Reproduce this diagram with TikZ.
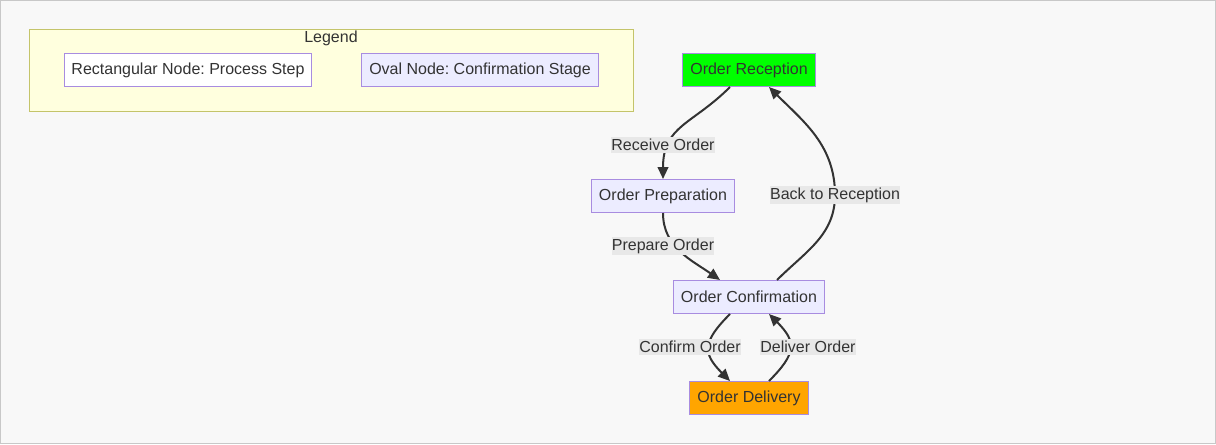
\documentclass[tikz,border=0pt]{standalone}
\usepackage{fontspec}
\setmainfont{Liberation Sans}
\frenchspacing
\usetikzlibrary{arrows.meta}
\definecolor{bggray}{HTML}{F8F8F8}
\definecolor{framegray}{HTML}{C8C8C8}
\definecolor{nodefill}{HTML}{ECECFF}
\definecolor{nodeline}{HTML}{A88CE0}
\definecolor{legfill}{HTML}{FFFFDE}
\definecolor{legline}{HTML}{C4C46A}
\definecolor{txtgray}{HTML}{333333}
\definecolor{lblfill}{HTML}{E8E8E8}
\definecolor{recfill}{HTML}{00FF00}
\definecolor{delfill}{HTML}{FFA500}
\tikzset{%
  pnode/.style={%
    draw=nodeline,
    fill=nodefill,
    text=txtgray,
    rectangle,
    line width=0.75pt,
    minimum height=24.75pt,
    inner xsep=5.6pt,
    font=\fontsize{12pt}{14.4pt}\selectfont%
  },
  wnode/.style={%
    pnode,
    fill=white
  },
  legbox/.style={%
    draw=legline,
    fill=legfill,
    line width=0.75pt,
    rectangle
  },
  ltitle/.style={%
    text=txtgray,
    inner sep=0pt,
    font=\fontsize{12pt}{14.4pt}\selectfont%
  },
  elabel/.style={%
    fill=lblfill,
    text=txtgray,
    inner xsep=0pt,
    inner ysep=1.5pt,
    font=\fontsize{12pt}{14.4pt}\selectfont%
  },
  flow/.style={%
    draw=txtgray,
    line width=1.5pt,
    -{Triangle[length=9pt,width=8pt]}%
  }
}
\begin{document}
\begin{tikzpicture}[x=0.75pt,y=-0.75pt]
  \useasboundingbox (0,0) rectangle (1216,444);
  \draw[framegray, fill=bggray, line width=0.75pt] (0.5,0.5) rectangle (1215.5,443.5);

  % legend
  \node[legbox, minimum width=453pt, minimum height=61.5pt] (legend) at (331,70) {};
  \node[ltitle] (legtitle) at (331,38) {Legend};
  \node[wnode] (lrect) at (188,70) {Rectangular Node: Process Step};
  \node[pnode] (loval) at (480,70) {Oval Node: Confirmation Stage};

  % flow
  \node[pnode, fill=recfill] (rec)   at (749,70)  {Order Reception};
  \node[pnode]               (prep)  at (663,196) {Order Preparation};
  \node[pnode]               (conf)  at (749,297) {Order Confirmation};
  \node[pnode, fill=delfill] (deliv) at (749,398) {Order Delivery};
  \coordinate (bk) at (835,195);

  \draw[flow] ([shift={(-19,0)}]rec.south) to[out=225,in=90,looseness=1.2] (prep.north);
  \draw[flow] (prep.south) to[out=270,in=145] ([shift={(-29,0)}]conf.north);
  \draw[flow] ([shift={(28,0)}]conf.north) to[out=45,in=270] (bk)
    to[out=90,in=315] ([shift={(20,0)}]rec.south);
  \draw[flow] ([shift={(-19,0)}]conf.south) to[out=225,in=135,looseness=1.5] ([shift={(-19,0)}]deliv.north);
  \draw[flow] ([shift={(20,0)}]deliv.north) to[out=45,in=315,looseness=1.5] ([shift={(20,0)}]conf.south);

  \node[elabel] (lrecv) at (663,145) {Receive Order};
  \node[elabel] (lprep) at (663,246) {Prepare Order};
  \node[elabel] (lback) at (bk)      {Back to Reception};
  \node[elabel] (lconf) at (690,347) {Confirm Order};
  \node[elabel] (ldeliv) at (808,347) {Deliver Order};
\end{tikzpicture}
\end{document}
